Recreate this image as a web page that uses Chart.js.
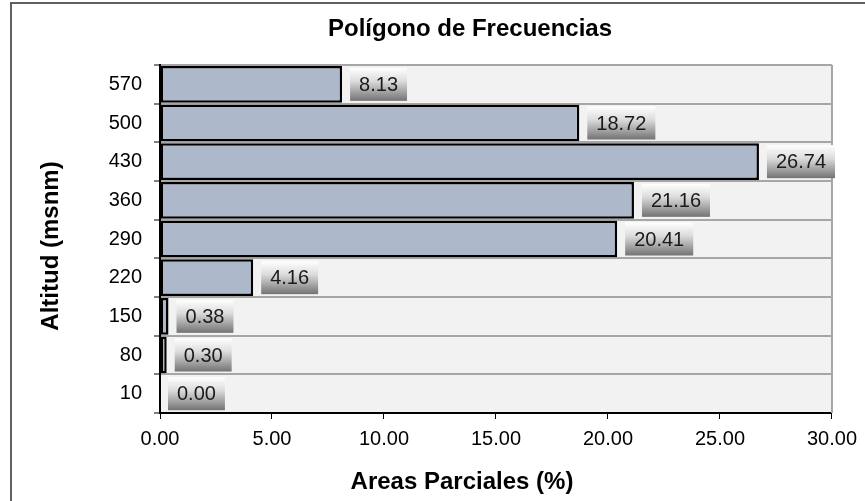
<!DOCTYPE html>
<html>
<head>
<meta charset="utf-8">
<script src="https://cdn.jsdelivr.net/npm/chart.js@4.4.0/dist/chart.umd.min.js"></script>
<style>
  html, body { margin: 0; padding: 0; background: #fff; }
  #wrap { width: 865px; height: 501px; }
</style>
</head>
<body>
<div id="wrap"><canvas id="chart" width="865" height="501"></canvas></div>
<script>
// data, top row first as in the picture
const altitudes = ['570', '500', '430', '360', '290', '220', '150', '80', '10'];
const areas = [8.13, 18.72, 26.74, 21.16, 20.41, 4.16, 0.38, 0.30, 0.00];
const xTicks = [0, 5, 10, 15, 20, 25, 30];

const FONT = "'Liberation Sans', Arial, sans-serif";

// plot background, outer frame and right border
const plotFrame = {
  id: 'plotFrame',
  beforeDraw(chart) {
    const { ctx, chartArea: a } = chart;
    ctx.save();
    ctx.fillStyle = '#f2f2f2';
    ctx.fillRect(a.left, a.top, a.right - a.left, a.bottom - a.top);
    ctx.strokeStyle = '#606060';
    ctx.lineWidth = 2;
    ctx.beginPath();
    ctx.moveTo(11, 501);
    ctx.lineTo(11, 3);
    ctx.lineTo(865, 3);
    ctx.stroke();
    ctx.restore();
  },
  beforeDatasetsDraw(chart) {
    const { ctx, chartArea: a } = chart;
    ctx.save();
    ctx.strokeStyle = '#a6a6a6';
    ctx.lineWidth = 2;
    ctx.beginPath();
    ctx.moveTo(a.right, a.top);
    ctx.lineTo(a.right, a.bottom);
    ctx.stroke();
    ctx.restore();
  }
};

// gray gradient value boxes next to each bar
const valueBoxes = {
  id: 'valueBoxes',
  afterDatasetsDraw(chart) {
    const ctx = chart.ctx;
    const meta = chart.getDatasetMeta(0);
    ctx.save();
    ctx.font = '20px ' + FONT;
    ctx.textAlign = 'center';
    ctx.textBaseline = 'middle';
    meta.data.forEach((bar, i) => {
      const txt = areas[i].toFixed(2);
      const w = ctx.measureText(txt).width + 18;
      const h = 33;
      const x = bar.x + 8;
      const y = bar.y - h / 2;
      const g = ctx.createLinearGradient(0, y, 0, y + h);
      g.addColorStop(0, '#ffffff');
      g.addColorStop(0.4, '#dcdcdc');
      g.addColorStop(1, '#737373');
      ctx.fillStyle = g;
      ctx.fillRect(x, y, w, h);
      ctx.fillStyle = '#1a1a1a';
      ctx.fillText(txt, x + w / 2, bar.y + 1);
    });
    ctx.restore();
  }
};

// titles placed where the original has them
const titles = {
  id: 'titles',
  afterDraw(chart) {
    const ctx = chart.ctx;
    ctx.save();
    ctx.fillStyle = '#000';
    ctx.textAlign = 'center';
    ctx.textBaseline = 'middle';
    ctx.font = 'bold 24px ' + FONT;
    ctx.fillText('Polígono de Frecuencias', 470, 29);
    ctx.fillText('Areas Parciales (%)', 462, 482);
    ctx.translate(51, 246);
    ctx.rotate(-Math.PI / 2);
    ctx.fillText('Altitud (msnm)', 0, 0);
    ctx.restore();
  }
};

new Chart(document.getElementById('chart'), {
  type: 'bar',
  plugins: [plotFrame, valueBoxes, titles],
  data: {
    labels: altitudes,
    datasets: [{
      data: areas,
      backgroundColor: '#adb9ca',
      borderColor: '#000',
      borderWidth: 2.5,
      borderSkipped: false,
      barPercentage: 0.95,
      categoryPercentage: 1
    }]
  },
  options: {
    indexAxis: 'y',
    responsive: false,
    animation: false,
    layout: { padding: { top: 65, right: 33, left: 0, bottom: 0 } },
    plugins: {
      legend: { display: false },
      tooltip: { enabled: false },
      title: { display: false }
    },
    scales: {
      y: {
        offset: true,
        afterFit(scale) { scale.width = 160; },
        grid: { color: '#a6a6a6', lineWidth: 2, tickLength: 6, tickColor: '#000', tickWidth: 1 },
        border: { color: '#000', width: 2 },
        ticks: { color: '#000', padding: 12, font: { family: FONT, size: 20 } }
      },
      x: {
        min: 0,
        max: 30,
        afterFit(scale) { scale.height = 88; },
        afterBuildTicks(scale) { scale.ticks = xTicks.map(v => ({ value: v })); },
        grid: { drawOnChartArea: false, tickLength: 6, color: '#000', lineWidth: 1 },
        border: { color: '#000', width: 2 },
        ticks: {
          color: '#000',
          padding: 8,
          font: { family: FONT, size: 20 },
          callback: v => Number(v).toFixed(2)
        }
      }
    }
  }
});
</script>
</body>
</html>
